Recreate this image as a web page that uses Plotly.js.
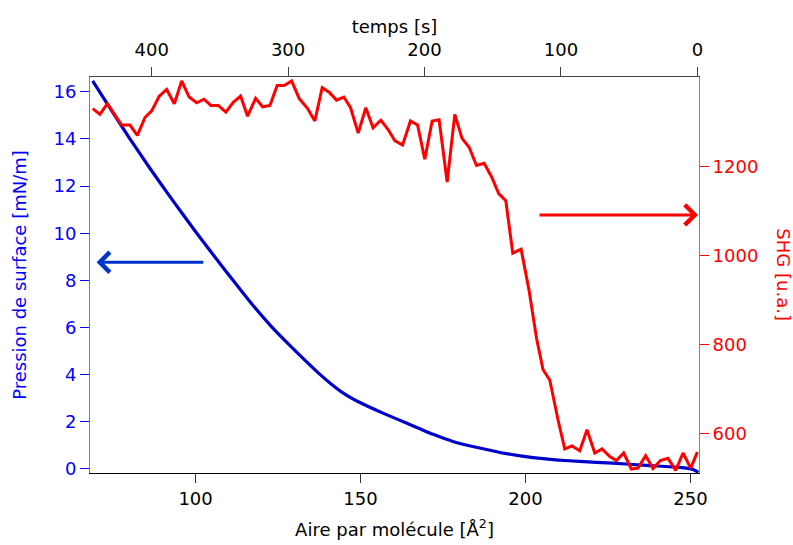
<!DOCTYPE html>
<html>
<head>
<meta charset="utf-8">
<script src="https://cdn.plot.ly/plotly-3.0.1.min.js"></script>
<style>html,body{margin:0;padding:0;background:#fff;}#chart{width:793px;height:545px;}</style>
</head>
<body>
<div id="chart"></div>
<script>
// Surface pressure isotherm (bottom axis: area per molecule)
const areaPerMolecule = [68.8, 74.5, 80.1, 86.0, 91.7, 95.8, 99.8, 104.3, 107.9, 111.9, 117.0, 123.0, 129.1, 137.2, 141.0, 145.0, 149.8, 156.8, 163.9, 172.0, 178.0, 186.1, 194.2, 202.3, 210.0, 216.4, 226.5, 236.6, 246.7, 250.8, 252.4];
const surfacePressure = [16.47, 15.21, 14.01, 12.79, 11.66, 10.87, 10.11, 9.28, 8.62, 7.91, 7.01, 6.04, 5.17, 4.08, 3.62, 3.20, 2.82, 2.37, 1.95, 1.47, 1.17, 0.89, 0.65, 0.48, 0.38, 0.32, 0.25, 0.15, 0.07, -0.02, -0.14];

// SHG signal (top axis: time)
const timeSec = [443.2, 437.9, 432.5, 426.9, 422.0, 415.9, 410.5, 404.9, 400.0, 394.4, 389.0, 383.4, 378.0, 372.5, 367.0, 361.7, 356.6, 351.2, 345.6, 340.2, 334.8, 329.7, 323.8, 318.7, 313.3, 308.0, 302.9, 297.4, 291.9, 285.7, 280.4, 275.0, 269.9, 264.5, 259.1, 254.2, 248.6, 243.0, 237.7, 232.0, 226.7, 221.8, 216.1, 210.3, 205.1, 199.8, 194.4, 189.3, 183.4, 177.8, 172.5, 167.3, 161.9, 156.3, 150.9, 145.6, 140.4, 135.3, 129.2, 123.4, 117.9, 113.1, 108.2, 102.1, 97.2, 91.9, 86.2, 80.9, 75.2, 69.9, 64.2, 59.3, 54.0, 48.4, 43.5, 37.9, 32.5, 27.1, 21.5, 15.9, 10.5, 4.9, 0.0];
const shgSignal = [1331, 1318, 1342, 1316, 1294, 1294, 1271, 1311, 1326, 1359, 1374, 1342, 1393, 1357, 1344, 1352, 1338, 1338, 1323, 1345, 1359, 1314, 1354, 1335, 1338, 1383, 1383, 1393, 1354, 1331, 1303, 1378, 1368, 1350, 1357, 1333, 1276, 1333, 1288, 1305, 1284, 1259, 1249, 1303, 1294, 1217, 1303, 1306, 1166, 1318, 1264, 1244, 1203, 1208, 1178, 1140, 1124, 1006, 1015, 923, 815, 744, 721, 631, 566, 573, 562, 609, 557, 566, 549, 540, 557, 521, 523, 551, 522, 540, 545, 518, 557, 523, 559];

// Tick labels
const areaTicks = [100, 150, 200, 250];
const timeTicks = [0, 100, 200, 300, 400];
const pressureTicks = [0, 2, 4, 6, 8, 10, 12, 14, 16];
const shgTicks = [600, 800, 1000, 1200];

const FONT = 'DejaVu Sans, Verdana, sans-serif';
const FS = 18;
const BLUE = '#0000ff';
const RED = '#ff0000';

const traces = [
  {
    x: areaPerMolecule, y: surfacePressure, xaxis: 'x', yaxis: 'y',
    type: 'scatter', mode: 'lines',
    line: {color: '#0000cc', width: 3.2, shape: 'spline', smoothing: 0.5},
    hoverinfo: 'skip'
  },
  {
    x: timeSec, y: shgSignal, xaxis: 'x2', yaxis: 'y2',
    type: 'scatter', mode: 'lines',
    line: {color: RED, width: 3},
    hoverinfo: 'skip'
  }
];

const layout = {
  width: 793, height: 545,
  margin: {l: 90, r: 94, t: 77, b: 72},
  paper_bgcolor: '#ffffff', plot_bgcolor: '#ffffff',
  showlegend: false,
  font: {family: FONT, size: FS, color: '#000'},
  xaxis: {
    range: [68.0, 252.6], tickvals: areaTicks, ticktext: areaTicks.map(String),
    showgrid: false, zeroline: false, showline: true, linecolor: '#000', linewidth: 1,
    ticks: 'outside', ticklen: 9, tickcolor: '#333',
    tickfont: {family: FONT, size: FS, color: '#000'},
    title: {text: 'Aire par molécule [Å<sup>2</sup>]', font: {family: FONT, size: FS, color: '#000'}, standoff: 15},
    automargin: false
  },
  xaxis2: {
    overlaying: 'x', side: 'top', anchor: 'y',
    range: [445.2, -1.2], tickvals: timeTicks, ticktext: timeTicks.map(String),
    showgrid: false, zeroline: false, showline: true, linecolor: '#444', linewidth: 1,
    ticks: 'outside', ticklen: 9, tickcolor: '#444', ticklabelstandoff: 4,
    tickfont: {family: FONT, size: FS, color: '#000'},
    title: {text: 'temps [s]', font: {family: FONT, size: FS, color: '#000'}, standoff: 0},
    automargin: false
  },
  yaxis: {
    range: [-0.17, 16.63], tickvals: pressureTicks, ticktext: pressureTicks.map(String),
    showgrid: false, zeroline: false, showline: true, linecolor: '#6f6fff', linewidth: 1,
    ticks: 'outside', ticklen: 9, tickcolor: BLUE,
    tickfont: {family: FONT, size: FS, color: BLUE},
    title: {text: 'Pression de surface [mN/m]', font: {family: FONT, size: FS, color: BLUE}, standoff: 22},
    automargin: false
  },
  yaxis2: {
    overlaying: 'y', side: 'right', anchor: 'x',
    range: [512, 1402], tickvals: shgTicks, ticktext: shgTicks.map(String),
    showgrid: false, zeroline: false, showline: true, linecolor: '#ff5050', linewidth: 1,
    ticks: 'outside', ticklen: 9, tickcolor: RED,
    tickfont: {family: FONT, size: FS, color: RED},
    automargin: false
  },
  annotations: [
    {
      xref: 'paper', yref: 'paper', x: 1.139, y: 0.5, xanchor: 'center', yanchor: 'middle',
      text: 'SHG [u.a.]', textangle: 90, showarrow: false,
      font: {family: FONT, size: FS, color: RED}
    },
    {
      xref: 'x', yref: 'y', x: 70.0, y: 8.77, axref: 'x', ayref: 'y', ax: 102.8, ay: 8.77,
      text: '', showarrow: true, arrowhead: 4, arrowsize: 1.3, arrowwidth: 3, arrowcolor: '#0033cc', standoff: 0
    },
    {
      xref: 'x', yref: 'y', x: 252.3, y: 10.78, axref: 'x', ayref: 'y', ax: 203.8, ay: 10.78,
      text: '', showarrow: true, arrowhead: 4, arrowsize: 1.3, arrowwidth: 3, arrowcolor: RED, standoff: 0
    }
  ]
};

Plotly.newPlot('chart', traces, layout, {staticPlot: true, displayModeBar: false});
</script>
</body>
</html>
